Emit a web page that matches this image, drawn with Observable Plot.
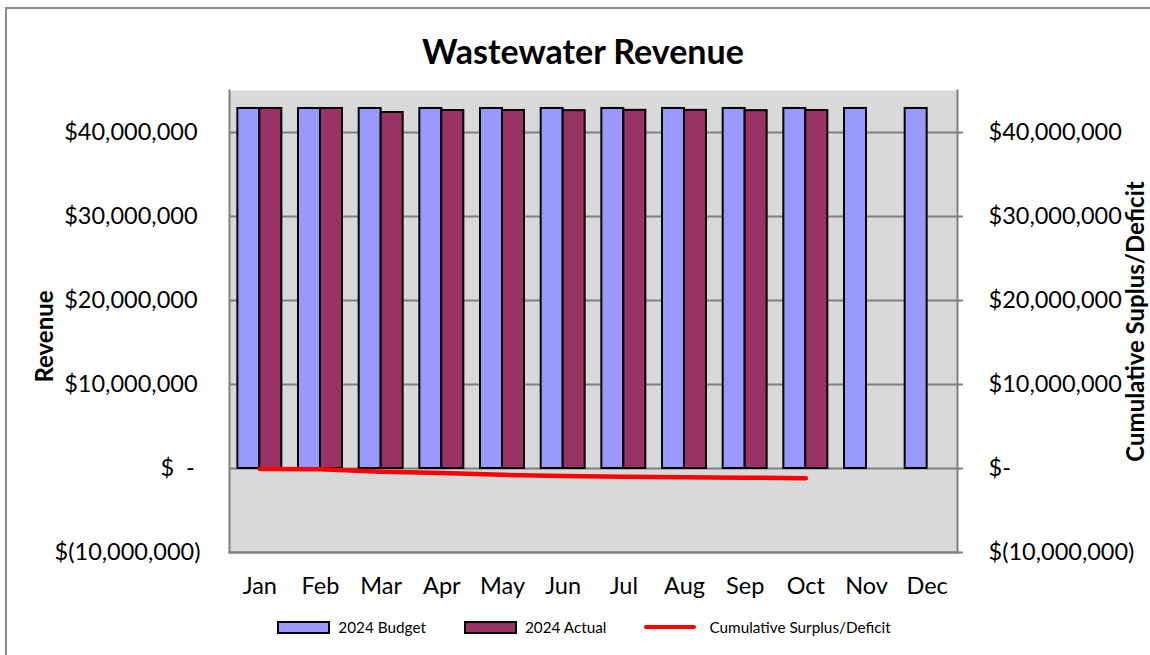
<!DOCTYPE html>
<html>
<head>
<meta charset="utf-8">
<script src="https://cdn.jsdelivr.net/npm/d3@7"></script>
<script src="https://cdn.jsdelivr.net/npm/@observablehq/plot@0.6"></script>
<style>
  html, body { margin: 0; padding: 0; background: #fff; }
  body { width: 1150px; height: 655px; overflow: hidden; position: relative; font-family: Lato, "Open Sans", sans-serif; }
  #frame { position: absolute; left: 5px; top: 7px; width: 1200px; height: 700px; border: 2px solid #8c8c8c; box-sizing: border-box; }
  #title { position: absolute; left: 0; top: 33px; width: 1166px; text-align: center; font-size: 34px; font-weight: bold; line-height: 36px; color: #000; }
  #chart { position: absolute; left: 0; top: 75px; }
  #legend { position: absolute; left: 0; top: 618px; width: 1168px; display: flex; justify-content: center; gap: 38px; font-size: 15.3px; color: #000; align-items: center; }
  .item { display: flex; align-items: center; gap: 8px; }
  .sw { width: 49px; height: 9px; border: 2px solid #000; }
  .ln { width: 52px; height: 4px; background: #ff0000; border-radius: 2px; margin-right: 5px; }
</style>
</head>
<body>
<div id="frame"></div>
<div id="title">Wastewater Revenue</div>
<div id="chart"></div>
<div id="legend"></div>
<script>
const months = ["Jan","Feb","Mar","Apr","May","Jun","Jul","Aug","Sep","Oct","Nov","Dec"];
const budget2024 = [42860000,42860000,42860000,42860000,42860000,42860000,42860000,42860000,42860000,42860000,42860000,42860000];
const actual2024 = [42860000,42860000,42380000,42620000,42620000,42600000,42640000,42640000,42600000,42620000];
const cumulative = [-50000,-100000,-400000,-550000,-750000,-900000,-980000,-1050000,-1100000,-1150000];
const yTicks = [-10000000,0,10000000,20000000,30000000,40000000];
const seriesNames = ["2024 Budget","2024 Actual","Cumulative Surplus/Deficit"];
const colors = {budget: "#9999ff", actual: "#993366", line: "#ff0000"};

const budgetData = months.map((m, i) => ({month: m, value: budget2024[i]}));
const actualData = actual2024.map((v, i) => ({month: months[i], value: v}));
const cumData = cumulative.map((v, i) => ({month: months[i], value: v}));

function fmt(d) {
  if (d === 0) return "$\u2002-\u2009\u2009";
  if (d < 0) return "$(" + d3.format(",")(-d) + ")";
  return "$" + d3.format(",")(d) + "\u2009";
}
function fmtR(d) {
  if (d === 0) return "$-";
  if (d < 0) return "$(" + d3.format(",")(-d) + ")";
  return "$" + d3.format(",")(d);
}

const bw = 22;
const chart = Plot.plot({
  width: 1150,
  height: 527,
  marginLeft: 229,
  marginRight: 193,
  marginTop: 15,
  marginBottom: 50,
  style: {fontFamily: "Lato, 'Open Sans', sans-serif", color: "#000", background: "transparent"},
  x: {domain: months, paddingInner: 0.275, paddingOuter: 0.1375, round: false, label: null},
  y: {domain: [-10000000, 45000000], label: null},
  marks: [
    Plot.frame({fill: "#d9d9d9", stroke: null}),
    Plot.gridY(yTicks, {stroke: "#808080", strokeOpacity: 1, strokeWidth: 2}),
    Plot.frame({anchor: "left", stroke: "#808080", strokeWidth: 2}),
    Plot.frame({anchor: "right", stroke: "#808080", strokeWidth: 2}),
    Plot.frame({anchor: "bottom", stroke: "#808080", strokeWidth: 2}),
    Plot.barY(budgetData, {x: "month", y: "value", fill: colors.budget, stroke: "#000", strokeWidth: 2, insetRight: bw}),
    Plot.barY(actualData, {x: "month", y: "value", fill: colors.actual, stroke: "#000", strokeWidth: 2, insetLeft: bw}),
    Plot.lineY(cumData, {x: "month", y: "value", stroke: colors.line, strokeWidth: 4.5, strokeLinecap: "round"}),
    Plot.axisY(yTicks, {anchor: "left", tickSize: 0, tickPadding: 29, tickFormat: fmt, fontSize: 23.5, label: null}),
    Plot.axisY(yTicks, {anchor: "right", tickSize: 5, tickPadding: 26, tickFormat: fmtR, fontSize: 23.5, textAnchor: "start", label: null, stroke: "#808080", strokeWidth: 2}),
    Plot.axisX({anchor: "bottom", tickSize: 0, tickPadding: 25, fontSize: 23.5, label: null}),
    Plot.text(["Revenue"], {frameAnchor: "left", dx: -184, dy: 15, rotate: -90, textAnchor: "middle", fontSize: 24, fontWeight: "bold"}),
    Plot.text(["Cumulative Suplus/Deficit"], {frameAnchor: "right", dx: 179, rotate: -90, textAnchor: "middle", fontSize: 24, fontWeight: "bold"})
  ]
});
document.getElementById("chart").appendChild(chart);

const legend = document.getElementById("legend");
legend.innerHTML =
  `<div class="item"><div class="sw" style="background:${colors.budget}"></div><span>${seriesNames[0]}</span></div>` +
  `<div class="item"><div class="sw" style="background:${colors.actual}"></div><span>${seriesNames[1]}</span></div>` +
  `<div class="item"><div class="ln"></div><span>${seriesNames[2]}</span></div>`;
</script>
</body>
</html>
